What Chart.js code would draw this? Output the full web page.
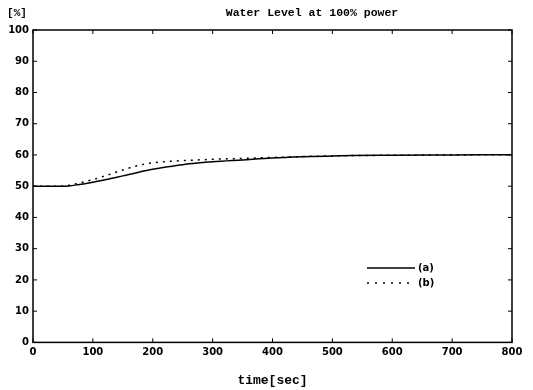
<!DOCTYPE html>
<html>
<head>
<meta charset="utf-8">
<script src="https://cdn.jsdelivr.net/npm/chart.js@4"></script>
<style>
  html, body { margin: 0; padding: 0; background: #fff; }
  #wrap { width: 533px; height: 390px; }
</style>
</head>
<body>
<div id="wrap"><canvas id="c"></canvas></div>
<script>
const times  = [0, 25, 50, 60, 75, 100, 125, 150, 175, 200, 225, 250, 275, 300, 350, 400, 450, 500, 600, 700, 800];
const levelA = [50, 50, 50, 50.1, 50.5, 51.3, 52.2, 53.3, 54.4, 55.4, 56.2, 56.9, 57.4, 57.8, 58.4, 59.0, 59.4, 59.7, 59.9, 60.0, 60.1];
const levelB = [50, 50, 50.1, 50.3, 50.9, 52.1, 53.6, 55.2, 56.6, 57.5, 57.9, 58.2, 58.4, 58.6, 58.9, 59.2, 59.5, 59.7, 59.9, 60.0, 60.1];
const legendNames = ['(a)', '(b)'];

const pts = (ys) => times.map((t, i) => ({ x: t, y: ys[i] }));

// box, inward ticks, titles and the little legend
const frame = {
  id: 'frame',
  afterDraw(chart) {
    const { ctx, chartArea: a, scales: { x, y } } = chart;
    ctx.save();
    ctx.strokeStyle = '#000';
    ctx.lineWidth = 1.5;
    ctx.strokeRect(a.left, a.top, a.right - a.left, a.bottom - a.top);
    ctx.lineWidth = 1;
    ctx.beginPath();
    x.ticks.forEach(t => {
      const px = x.getPixelForValue(t.value);
      ctx.moveTo(px, a.bottom); ctx.lineTo(px, a.bottom - 4);
      ctx.moveTo(px, a.top); ctx.lineTo(px, a.top + 4);
    });
    y.ticks.forEach(t => {
      const py = y.getPixelForValue(t.value);
      ctx.moveTo(a.left, py); ctx.lineTo(a.left + 4, py);
      ctx.moveTo(a.right, py); ctx.lineTo(a.right - 4, py);
    });
    ctx.stroke();

    ctx.fillStyle = '#000';
    ctx.font = 'bold 11.5px "Liberation Mono"';
    ctx.textAlign = 'center';
    ctx.textBaseline = 'middle';
    ctx.fillText('Water Level at 100% power', 312, 13);
    ctx.font = 'bold 11px "Liberation Mono"';
    ctx.fillText('[%]', 17, 13);

    // legend
    const lx = 367, lw = 48;
    [268, 283].forEach((ly, i) => {
      ctx.beginPath();
      ctx.setLineDash(i === 0 ? [] : [2, 6]);
      ctx.lineWidth = 1.5;
      ctx.moveTo(lx, ly); ctx.lineTo(lx + lw, ly);
      ctx.stroke();
      ctx.setLineDash([]);
      ctx.font = 'bold 10px "DejaVu Sans"';
      ctx.textAlign = 'left';
      ctx.fillText(legendNames[i], lx + lw + 3, ly);
    });
    ctx.restore();
  }
};

new Chart(document.getElementById('c'), {
  type: 'line',
  data: {
    datasets: [
      {
        label: legendNames[0],
        data: pts(levelA),
        borderColor: '#000',
        borderWidth: 1.5,
        pointRadius: 0,
        cubicInterpolationMode: 'monotone'
      },
      {
        label: legendNames[1],
        data: pts(levelB),
        borderColor: '#000',
        borderWidth: 1.5,
        borderDash: [2, 5],
        pointRadius: 0,
        cubicInterpolationMode: 'monotone'
      }
    ]
  },
  options: {
    responsive: true,
    maintainAspectRatio: false,
    animation: false,
    layout: { padding: { top: 30, right: 21, left: 0, bottom: 0 } },
    plugins: {
      legend: { display: false },
      tooltip: { enabled: false }
    },
    scales: {
      x: {
        type: 'linear',
        min: 0,
        max: 800,
        ticks: {
          stepSize: 100,
          color: '#000',
          padding: 4,
          font: { family: 'DejaVu Sans', size: 10, weight: 'bold' }
        },
        grid: { display: false, drawTicks: false, tickLength: 0 },
        border: { display: false },
        title: {
          display: true,
          text: 'time[sec]',
          color: '#000',
          padding: { top: 11, bottom: 1 },
          font: { family: 'Liberation Mono', size: 13, weight: 'bold' }
        }
      },
      y: {
        min: 0,
        max: 100,
        ticks: {
          stepSize: 10,
          color: '#000',
          padding: 4,
          font: { family: 'DejaVu Sans', size: 10, weight: 'bold' }
        },
        grid: { display: false, drawTicks: false, tickLength: 0 },
        border: { display: false },
        afterFit(scale) { scale.width = 33; }
      }
    }
  },
  plugins: [frame]
});
</script>
</body>
</html>
